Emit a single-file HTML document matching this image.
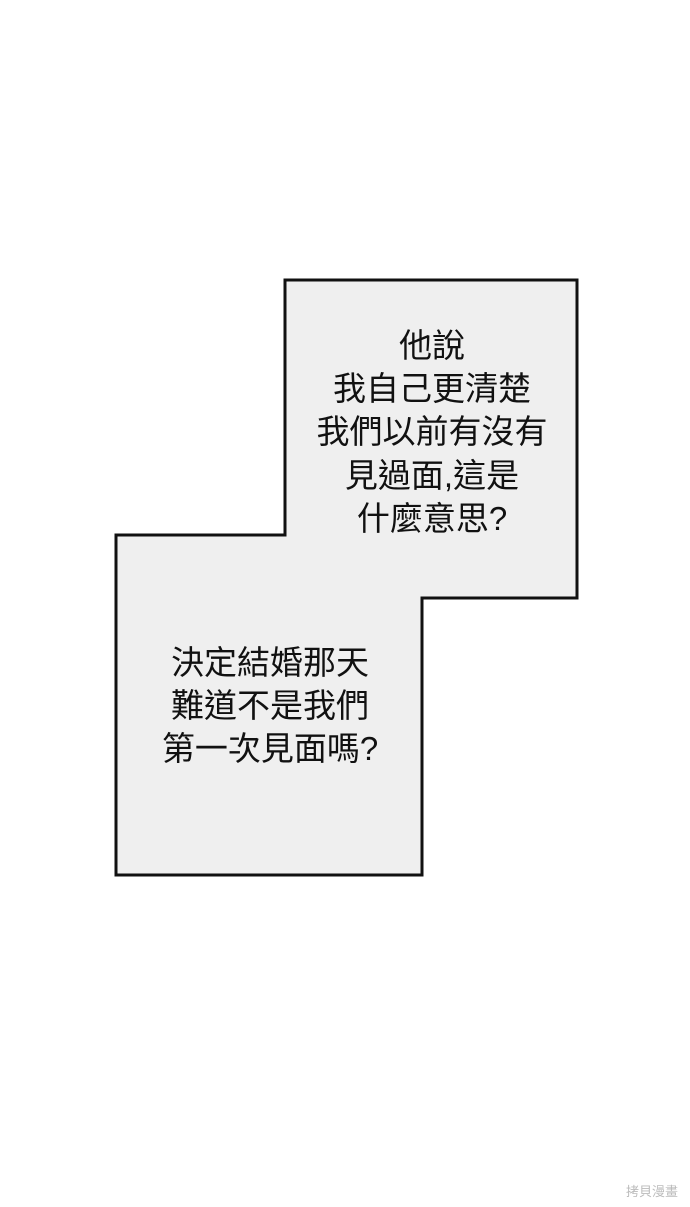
<!DOCTYPE html>
<html><head><meta charset="utf-8"><style>
html,body{margin:0;padding:0;background:#fff;width:690px;height:1207px;overflow:hidden}
svg{display:block}
text{font-family:"Liberation Sans","Noto Sans CJK TC",sans-serif;font-size:33px;fill:#111}
</style></head><body>
<svg width="690" height="1207" viewBox="0 0 690 1207">
<polygon points="285,280 577,280 577,598 422,598 422,875 116,875 116,535 285,535" fill="#efefef" stroke="#111" stroke-width="3"/>
<g text-anchor="middle">
<text x="432" y="357">他說</text>
<text x="432" y="400">我自己更清楚</text>
<text x="432" y="443">我們以前有沒有</text>
<text x="432" y="487">見過面,這是</text>
<text x="432" y="530">什麼意思?</text>
<text x="270" y="674">決定結婚那天</text>
<text x="270" y="717">難道不是我們</text>
<text x="270" y="760">第一次見面嗎?</text>
</g>
<text x="652" y="1196" text-anchor="middle" style="font-size:13px;fill:#bbb">拷貝漫畫</text>
</svg>
</body></html>
